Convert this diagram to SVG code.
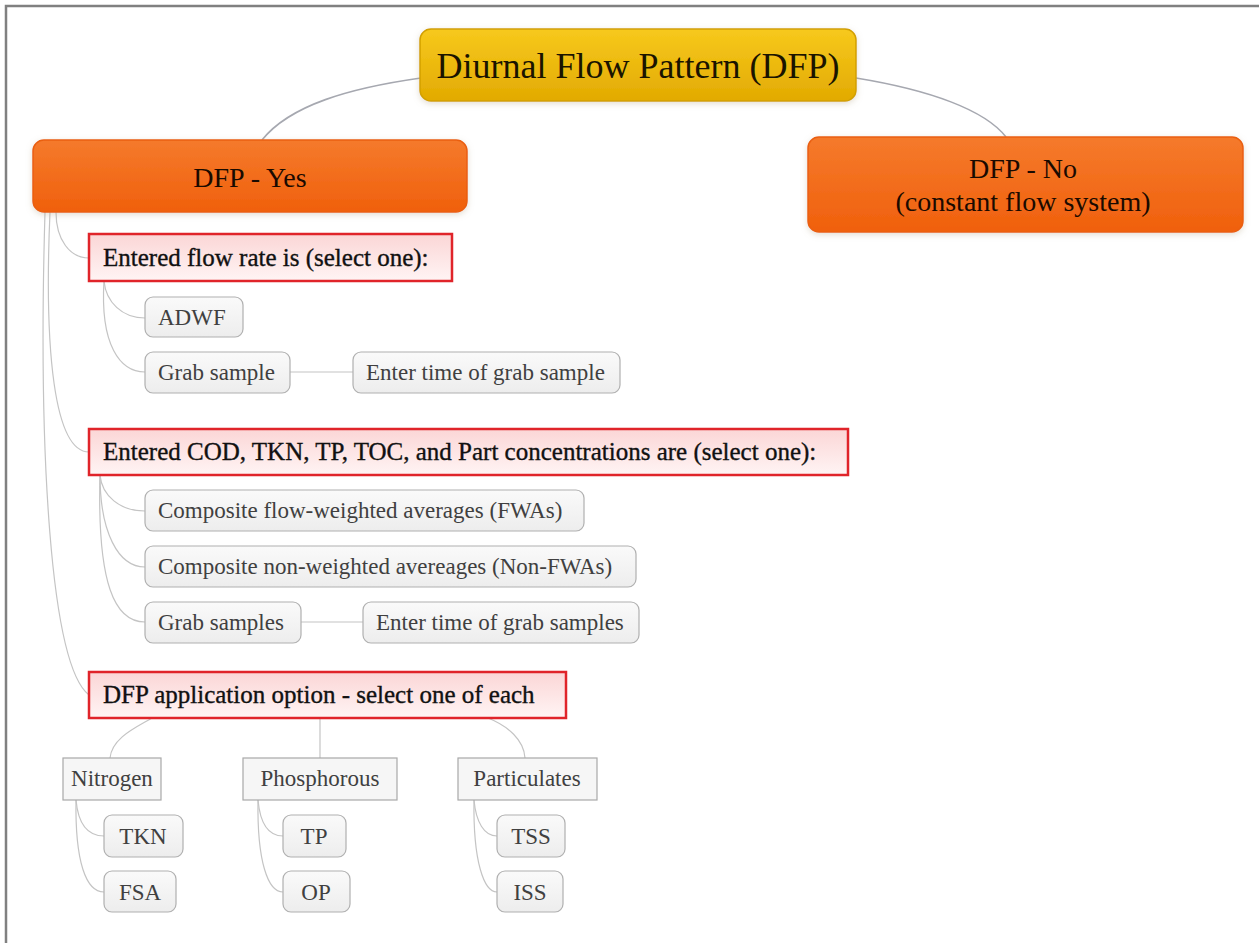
<svg xmlns="http://www.w3.org/2000/svg" width="1259" height="943" viewBox="0 0 1259 943">
  <defs>
    <linearGradient id="gGold" x1="0" y1="0" x2="0" y2="1">
      <stop offset="0" stop-color="#f7c91c"/>
      <stop offset="1" stop-color="#e2aa02"/>
    </linearGradient>
    <linearGradient id="gOrange" x1="0" y1="0" x2="0" y2="1">
      <stop offset="0" stop-color="#f57a2c"/>
      <stop offset="1" stop-color="#f0600c"/>
    </linearGradient>
    <linearGradient id="gPink" x1="0" y1="0" x2="0" y2="1">
      <stop offset="0" stop-color="#fbd6d6"/>
      <stop offset="1" stop-color="#fff4f4"/>
    </linearGradient>
    <linearGradient id="gGray" x1="0" y1="0" x2="0" y2="1">
      <stop offset="0" stop-color="#fafafa"/>
      <stop offset="1" stop-color="#ededed"/>
    </linearGradient>
    <filter id="soft" x="-10%" y="-20%" width="120%" height="150%">
      <feDropShadow dx="0" dy="2" stdDeviation="3" flood-color="#b0a080" flood-opacity="0.35"/>
    </filter>
  </defs>
  <style>
    text { font-family: "Liberation Serif", "Times New Roman", serif; }
    .root { fill: url(#gGold); stroke: #d2a000; stroke-width: 1.5; }
    .main { fill: url(#gOrange); stroke: #ea5f10; stroke-width: 1.5; }
    .head { fill: url(#gPink); stroke: #e0242a; stroke-width: 2.5; }
    .leaf { fill: url(#gGray); stroke: #b0b0b0; stroke-width: 1.2; }
    .cat { fill: #f6f6f6; stroke: #a8a8a8; stroke-width: 1.2; }
    .t36 { font-size: 36px; fill: #1a1400; }
    .t28 { font-size: 28px; fill: #1a0a00; }
    .t25 { font-size: 25px; fill: #111; stroke: #111; stroke-width: 0.35; }
    .t23 { font-size: 23px; fill: #404040; }
    .mid { text-anchor: middle; }
    .link { fill: none; stroke: #a6a8b0; stroke-width: 1.6; }
    .sub { fill: none; stroke: #c4c4c4; stroke-width: 1.2; }
    .frame { stroke: #808080; stroke-width: 2.5; fill: none; }
  </style>

  <rect x="0" y="0" width="1259" height="943" fill="#ffffff"/>
  <path class="frame" d="M6,943 V6 H1259"/>

  <g id="connectors">
    <path class="link" d="M421,78 C350,88 290,105 262,140"/>
    <path class="link" d="M856,78 C930,90 985,110 1006,137"/>
    <path class="sub" d="M56,212 C56,240 70,258 89,258"/>
    <path class="sub" d="M50,212 C44,350 54,452 89,452"/>
    <path class="sub" d="M45,212 C38,450 50,665 89,695"/>
    <path class="sub" d="M104,281 C106,302 122,318 145,318"/>
    <path class="sub" d="M104,281 C100,345 120,372 145,372"/>
    <path class="sub" d="M290,372 H353"/>
    <path class="sub" d="M100,475 C102,496 120,511 145,511"/>
    <path class="sub" d="M100,475 C100,532 118,567 145,567"/>
    <path class="sub" d="M100,475 C97,585 115,622 145,622"/>
    <path class="sub" d="M301,622 H363"/>
    <path class="sub" d="M152,718 C135,728 112,738 110,758"/>
    <path class="sub" d="M320,718 V758"/>
    <path class="sub" d="M488,718 C508,726 524,740 525,758"/>
    <path class="sub" d="M76,800 C78,822 86,836 104,836"/>
    <path class="sub" d="M76,800 C75,862 86,892 104,892"/>
    <path class="sub" d="M258,800 C260,822 268,836 283,836"/>
    <path class="sub" d="M258,800 C257,862 268,892 283,892"/>
    <path class="sub" d="M474,800 C476,822 484,836 497,836"/>
    <path class="sub" d="M474,800 C473,862 484,892 497,892"/>
  </g>

  <g id="node-root">
    <rect class="root" x="420" y="29" width="436" height="72" rx="11" filter="url(#soft)"/>
    <text class="t36 mid" x="638" y="78">Diurnal Flow Pattern (DFP)</text>
  </g>

  <g id="node-dfp-yes">
    <rect class="main" x="33" y="140" width="434" height="72" rx="11" filter="url(#soft)"/>
    <text class="t28 mid" x="250" y="187">DFP - Yes</text>
  </g>

  <g id="node-dfp-no">
    <rect class="main" x="808" y="137" width="435" height="95" rx="11" filter="url(#soft)"/>
    <text class="t28 mid" x="1023" y="178">DFP - No</text>
    <text class="t28 mid" x="1023" y="211">(constant flow system)</text>
  </g>

  <g id="node-flow-rate">
    <rect class="head" x="89" y="234" width="363" height="47"/>
    <text class="t25" x="103" y="266">Entered flow rate is (select one):</text>
  </g>

  <g id="node-adwf">
    <rect class="leaf" x="145" y="297" width="98" height="40" rx="8"/>
    <text class="t23" x="158" y="325">ADWF</text>
  </g>

  <g id="node-grab-sample">
    <rect class="leaf" x="145" y="352" width="145" height="41" rx="8"/>
    <text class="t23" x="158" y="380">Grab sample</text>
  </g>

  <g id="node-grab-time">
    <rect class="leaf" x="353" y="352" width="267" height="41" rx="8"/>
    <text class="t23" x="366" y="380">Enter time of grab sample</text>
  </g>

  <g id="node-concentrations">
    <rect class="head" x="89" y="429" width="759" height="46"/>
    <text class="t25" x="103" y="460">Entered COD, TKN, TP, TOC, and Part concentrations are (select one):</text>
  </g>

  <g id="node-fwa">
    <rect class="leaf" x="145" y="490" width="439" height="41" rx="8"/>
    <text class="t23" x="158" y="518">Composite flow-weighted averages (FWAs)</text>
  </g>

  <g id="node-non-fwa">
    <rect class="leaf" x="145" y="546" width="491" height="41" rx="8"/>
    <text class="t23" x="158" y="574">Composite non-weighted avereages (Non-FWAs)</text>
  </g>

  <g id="node-grab-samples">
    <rect class="leaf" x="145" y="602" width="156" height="41" rx="8"/>
    <text class="t23" x="158" y="630">Grab samples</text>
  </g>

  <g id="node-grab-samples-time">
    <rect class="leaf" x="363" y="602" width="276" height="41" rx="8"/>
    <text class="t23" x="376" y="630">Enter time of grab samples</text>
  </g>

  <g id="node-application">
    <rect class="head" x="89" y="672" width="477" height="46"/>
    <text class="t25" x="103" y="703">DFP application option - select one of each</text>
  </g>

  <g id="node-nitrogen">
    <rect class="cat" x="63" y="758" width="98" height="42"/>
    <text class="t23 mid" x="112" y="786">Nitrogen</text>
  </g>

  <g id="node-phosphorous">
    <rect class="cat" x="243" y="758" width="154" height="42"/>
    <text class="t23 mid" x="320" y="786">Phosphorous</text>
  </g>

  <g id="node-particulates">
    <rect class="cat" x="458" y="758" width="139" height="42"/>
    <text class="t23 mid" x="527" y="786">Particulates</text>
  </g>

  <g id="node-tkn">
    <rect class="leaf" x="104" y="815" width="79" height="42" rx="8"/>
    <text class="t23 mid" x="143" y="844">TKN</text>
  </g>

  <g id="node-fsa">
    <rect class="leaf" x="104" y="871" width="72" height="41" rx="8"/>
    <text class="t23 mid" x="140" y="900">FSA</text>
  </g>

  <g id="node-tp">
    <rect class="leaf" x="283" y="815" width="63" height="42" rx="8"/>
    <text class="t23 mid" x="314" y="844">TP</text>
  </g>

  <g id="node-op">
    <rect class="leaf" x="283" y="871" width="67" height="41" rx="8"/>
    <text class="t23 mid" x="316" y="900">OP</text>
  </g>

  <g id="node-tss">
    <rect class="leaf" x="497" y="815" width="68" height="42" rx="8"/>
    <text class="t23 mid" x="531" y="844">TSS</text>
  </g>

  <g id="node-iss">
    <rect class="leaf" x="497" y="871" width="66" height="41" rx="8"/>
    <text class="t23 mid" x="530" y="900">ISS</text>
  </g>
</svg>
